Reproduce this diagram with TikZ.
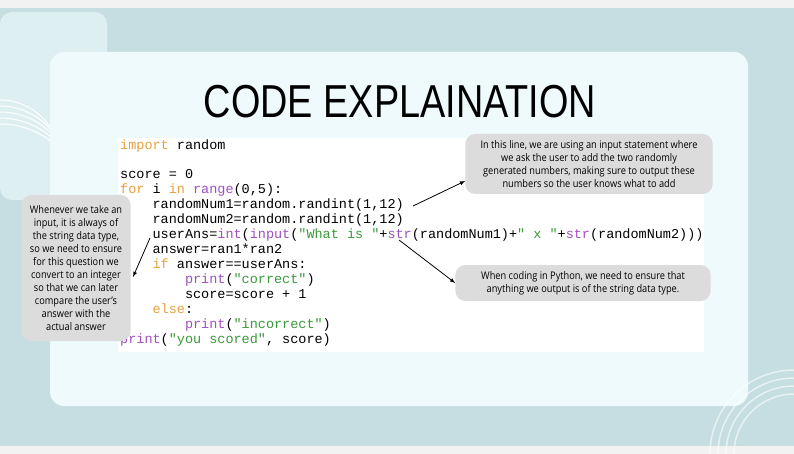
\documentclass[tikz,border=0pt]{standalone}
\usepackage{fontspec}
\setmonofont{Liberation Mono}
\setsansfont{Open Sans}
\newfontfamily\titlefont{Liberation Sans}
\definecolor{frame}{HTML}{C6DEE1}
\definecolor{panel}{HTML}{EEFAFB}
\definecolor{kw}{HTML}{E8A040}
\definecolor{bi}{HTML}{A050C0}
\definecolor{st}{HTML}{3A9A3A}
\definecolor{callbg}{HTML}{DCDCDC}
\newcommand{\K}[1]{\textcolor{kw}{#1}}
\newcommand{\B}[1]{\textcolor{bi}{#1}}
\newcommand{\Sg}[1]{\textcolor{st}{#1}}
\tikzset{callout/.style={fill=callbg,rounded corners=10pt,align=center,font=\sffamily\fontsize{10.5}{13}\selectfont,inner sep=3pt},
arr/.style={-latex,thick}}
\begin{document}
\begin{tikzpicture}[x=1pt,y=-1pt]
\useasboundingbox (0,0) rectangle (794,454);
\fill[gray!10] (0,0) rectangle (794,454);
\fill[frame] (0,8) rectangle (794,446);
% top-left decorative panel
\fill[panel!60!frame,rounded corners=12pt] (0,12) -- (107,12) -- (107,200) -- (0,200) -- cycle;
\foreach \r in {60,66,72,78,84}{\draw[white,line width=1pt] (0,\r+40) arc[start angle=90,end angle=0,radius=\r pt];}
% main panel
\fill[panel,rounded corners=14pt] (50,52) rectangle (748,406);
% bottom-right decoration
\foreach \r in {40,48,56,64}{\draw[white,opacity=0.6,line width=1.5pt] (794,454-\r-20) arc[start angle=90,end angle=180,radius=\r pt+20pt];}
% title
\node[font=\titlefont\fontsize{44}{44}\selectfont,xscale=0.86,yscale=1.05,transform shape] (title) at (400,102) {CODE EXPLAINATION};
% code
\fill[white] (118,138) rectangle (704,352);
\node[anchor=north west,align=left,inner sep=0pt,font=\ttfamily\fontsize{13.5}{15}\selectfont] (code) at (120,140) {%
\K{import} random\\[14pt]
score = 0\\
\K{for} i \K{in} \B{range}(0,5):\\
\ \ \ \ randomNum1=random.randint(1,12)\\
\ \ \ \ randomNum2=random.randint(1,12)\\
\ \ \ \ userAns=\B{int}(\B{input}(\Sg{"What is "}+\B{str}(randomNum1)+\Sg{" x "}+\B{str}(randomNum2)))\\
\ \ \ \ answer=ran1*ran2\\
\ \ \ \ \K{if} answer==userAns:\\
\ \ \ \ \ \ \ \ \B{print}(\Sg{"correct"})\\
\ \ \ \ \ \ \ \ score=score + 1\\
\ \ \ \ \K{else}:\\
\ \ \ \ \ \ \ \ \B{print}(\Sg{"incorrect"})\\
\B{print}(\Sg{"you scored"}, score)};
% callouts
\node[callout,minimum width=281pt,minimum height=60pt,xscale=0.88,transform shape] (c1) at (589,164) {In this line, we are using an input statement where\\we ask the user to add the two randomly\\generated numbers, making sure to output these\\numbers so the user knows what to add};
\node[callout,minimum width=290pt,minimum height=36pt,xscale=0.88,transform shape] (c2) at (583,283) {When coding in Python, we need to ensure that\\anything we output is of the string data type.};
\node[callout,minimum width=124pt,minimum height=146pt,xscale=0.88,transform shape] (c3) at (76,268) {Whenever we take an\\input, it is always of\\the string data type,\\so we need to ensure\\for this question we\\convert to an integer\\so that we can later\\compare the user's\\answer with the\\actual answer};
\coordinate (a1) at (413,206);
\coordinate (a2) at (399,240);
\coordinate (a3) at (150,238);
\draw[arr] (a1) -- (c1.west |- 0,181) ;
\draw[arr] (a2) -- (c2.west);
\draw[arr] (a3) -- (133,277);
\end{tikzpicture}
\end{document}
